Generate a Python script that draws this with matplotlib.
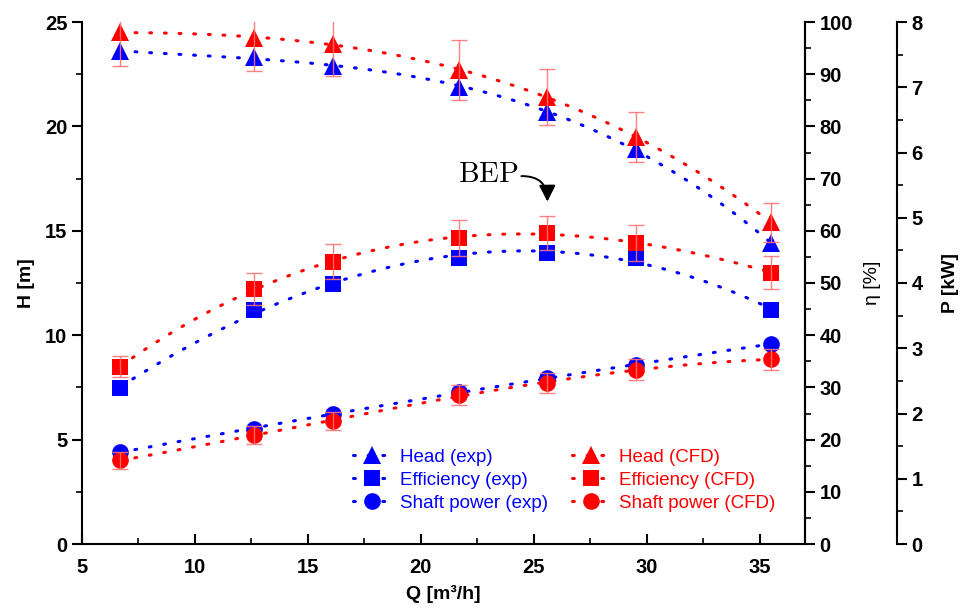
import numpy as np
import matplotlib
matplotlib.use("Agg")
import matplotlib.pyplot as plt
from matplotlib.lines import Line2D
from matplotlib.ticker import MultipleLocator

plt.rcParams['font.family'] = ['Liberation Sans', 'DejaVu Sans']
plt.rcParams['mathtext.fontset'] = 'cm'

# ---- data ----
Q = [6.7, 12.6, 16.1, 21.7, 25.6, 29.5, 35.5]
head_exp = [23.6, 23.3, 22.9, 21.9, 20.7, 18.9, 14.4]
head_cfd = [24.5, 24.25, 23.95, 22.7, 21.4, 19.5, 15.4]
head_cfd_err = [1.6, 1.6, 1.55, 1.42, 1.35, 1.2, 0.95]
eff_exp = [29.9, 44.8, 49.8, 54.8, 55.8, 54.8, 44.8]
eff_cfd = [34.0, 48.9, 54.1, 58.6, 59.6, 57.7, 52.0]
eff_cfd_err = [2.1, 3.1, 3.4, 3.4, 3.2, 3.5, 3.2]
pow_exp = [1.41, 1.76, 2.0, 2.33, 2.54, 2.74, 3.07]
pow_cfd = [1.28, 1.67, 1.89, 2.28, 2.47, 2.67, 2.83]
pow_cfd_err = [0.13, 0.14, 0.14, 0.15, 0.15, 0.16, 0.16]

blue = (0, 0, 1)
red = (1, 0, 0)
errc = (1, 0.45, 0.45)

fig = plt.figure(figsize=(9.6, 6.09), dpi=100)
ax = fig.add_axes([82/960, 1-544/609, (805-82)/960, (544-22)/609])
ax2 = ax.twinx()
ax3 = ax.twinx()
ax3.spines['right'].set_position(('outward', 92*72/100))

for a in (ax, ax2, ax3):
    a.spines['top'].set_visible(False)
    for s in a.spines.values():
        s.set_linewidth(1.5)
ax3.spines['left'].set_visible(False)
ax3.spines['bottom'].set_visible(False)
ax2.spines['left'].set_visible(False)
ax2.spines['bottom'].set_visible(False)

dots = dict(linestyle=(0, (0.6, 4.2)), linewidth=2.2, dash_capstyle='round')
Qf = np.linspace(Q[0], Q[-1], 200)

def draw(a, y, col, marker, ms, err=None):
    c = np.polyfit(Q, y, 3)
    a.plot(Qf, np.polyval(c, Qf), color=col, **dots, zorder=2)
    a.plot(Q, y, linestyle='none', marker=marker, ms=ms, color=col,
           markeredgewidth=0, zorder=3)
    if err is not None:
        a.errorbar(Q, y, yerr=err, fmt='none', ecolor=errc, elinewidth=1.0,
                   capsize=6, capthick=1.0, alpha=0.9, zorder=4)

draw(ax, head_exp, blue, '^', 13)
draw(ax, head_cfd, red, '^', 13, head_cfd_err)
draw(ax2, eff_exp, blue, 's', 11)
draw(ax2, eff_cfd, red, 's', 11, eff_cfd_err)
draw(ax3, pow_exp, blue, 'o', 12)
draw(ax3, pow_cfd, red, 'o', 12, pow_cfd_err)

ax.set_xlim(5, 37)
ax.set_ylim(0, 25)
ax2.set_ylim(0, 100)
ax3.set_ylim(0, 8)

ax.xaxis.set_major_locator(MultipleLocator(5))
ax.xaxis.set_minor_locator(MultipleLocator(2.5))
ax.yaxis.set_major_locator(MultipleLocator(5))
ax.yaxis.set_minor_locator(MultipleLocator(2.5))
ax2.yaxis.set_major_locator(MultipleLocator(10))
ax2.yaxis.set_minor_locator(MultipleLocator(5))
ax3.yaxis.set_major_locator(MultipleLocator(1))
ax3.yaxis.set_minor_locator(MultipleLocator(0.5))

ax.tick_params(axis='x', which='major', direction='in', length=7, width=1.5, pad=10)
ax.tick_params(axis='x', which='minor', direction='in', length=4, width=1.2)
ax.tick_params(axis='y', which='major', direction='out', length=7, width=1.5)
ax.tick_params(axis='y', which='minor', direction='out', length=4, width=1.2)
for a in (ax2, ax3):
    a.tick_params(axis='y', which='major', direction='out', length=7, width=1.5)
    a.tick_params(axis='y', which='minor', direction='out', length=4, width=1.2)

for a in (ax, ax2, ax3):
    for lab in a.get_xticklabels() + a.get_yticklabels():
        lab.set_fontsize(14.5)
        lab.set_fontweight('bold')

ax.set_xlabel('Q [m³/h]', fontsize=14, fontweight='bold', labelpad=6)
ax.set_ylabel('H [m]', fontsize=14, fontweight='bold', labelpad=7)
ax2.set_ylabel('η [%]', fontsize=14, labelpad=8)
ax3.set_ylabel('P [kW]', fontsize=14, fontweight='bold', labelpad=14)

ax.text(24.35, 17.7, r'$\mathrm{BEP}$', ha='right', va='center', fontsize=21)
ax.annotate('', xy=(25.6, 16.4), xytext=(24.45, 17.62),
            arrowprops=dict(arrowstyle='-|>,head_length=0.55,head_width=0.28',
                            color='black', lw=1.4, mutation_scale=18,
                            connectionstyle='arc3,rad=-0.5',
                            shrinkA=0, shrinkB=0))

handles = [
    Line2D([], [], color=blue, marker='^', ms=13, mew=0, **dots),
    Line2D([], [], color=blue, marker='s', ms=11, mew=0, **dots),
    Line2D([], [], color=blue, marker='o', ms=12, mew=0, **dots),
    Line2D([], [], color=red, marker='^', ms=13, mew=0, **dots),
    Line2D([], [], color=red, marker='s', ms=11, mew=0, **dots),
    Line2D([], [], color=red, marker='o', ms=12, mew=0, **dots),
]
labels = ['Head (exp)', 'Efficiency (exp)', 'Shaft power (exp)',
          'Head (CFD)', 'Efficiency (CFD)', 'Shaft power (CFD)']
leg = ax3.legend(handles, labels, ncol=2, frameon=False, fontsize=13.5,
                 loc='upper left', bbox_to_anchor=(336/960, 1-432/609),
                 bbox_transform=fig.transFigure, handlelength=2.0,
                 handletextpad=0.5, columnspacing=1.3, labelspacing=0.3,
                 labelcolor='linecolor')

fig.savefig('out.png', dpi=100)
